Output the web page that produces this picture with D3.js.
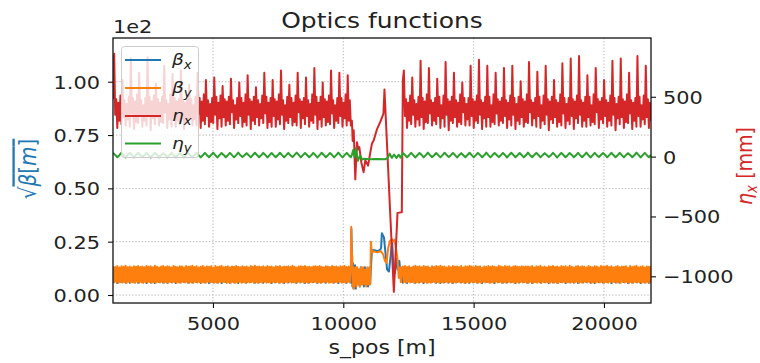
<!DOCTYPE html>
<html>
<head>
<meta charset="utf-8">
<script src="https://cdn.jsdelivr.net/npm/d3@7"></script>
<style>
  html, body { margin: 0; padding: 0; background: #fff; }
  svg { display: block; font-family: "DejaVu Sans", sans-serif; }
</style>
</head>
<body>
<svg id="chart" width="760" height="363"></svg>
<script>
// ---------------- axis limits and ticks ----------------
const sLimits = [1165, 21805];
const betaLimits = [-3.75, 120.5];        // sqrt(beta) [sqrt m]
const etaLimits = [-1223, 991];           // eta [mm]
const sTicks = [5000, 10000, 15000, 20000];
const betaTicks = [0, 25, 50, 75, 100];
const betaTickLabels = ["0.00", "0.25", "0.50", "0.75", "1.00"];
const betaOffsetLabel = "1e2";
const etaTicks = [-1000, -500, 0, 500];

// ---------------- arc 1, coarse samples (beta_x, eta_y) ----------------
const sArc1 = [
  1170,1250,1330,1410,1490,1570,1650,1730,1810,1890,
  1970,2050,2130,2210,2290,2370,2450,2530,2610,2690,
  2770,2850,2930,3010,3090,3170,3250,3330,3410,3490,
  3570,3650,3730,3810,3890,3970,4050,4130,4210,4290,
  4370,4450,4530,4610,4690,4770,4850,4930,5010,5090,
  5170,5250,5330,5410,5490,5570,5650,5730,5810,5890,
  5970,6050,6130,6210,6290,6370,6450,6530,6610,6690,
  6770,6850,6930,7010,7090,7170,7250,7330,7410,7490,
  7570,7650,7730,7810,7890,7970,8050,8130,8210,8290,
  8370,8450,8530,8610,8690,8770,8850,8930,9010,9090,
  9170,9250,9330,9410,9490,9570,9650,9730,9810,9890,
  9970,10050,10130,10210,10290
];
const bxArc1 = [
  5.9,12.3,5.6,12.6,6.1,12.1,5.8,12.5,5.7,12.2,
  6.0,12.7,5.7,12.0,6.1,12.4,5.6,12.6,5.9,12.2,
  5.6,12.5,6.1,12.1,5.8,12.7,5.7,12.3,6.0,12.0,
  5.6,12.6,5.9,12.2,6.1,12.4,5.7,12.5,5.8,12.1,
  6.1,12.3,5.7,12.7,5.9,12.0,5.6,12.6,6.0,12.2,
  5.8,12.4,5.6,12.5,6.1,12.1,5.7,12.7,5.9,12.3,
  5.6,12.2,6.0,12.6,5.8,12.0,6.1,12.4,5.7,12.5,
  5.9,12.1,5.7,12.7,6.1,12.3,5.6,12.2,6.0,12.6,
  5.8,12.4,5.6,12.0,5.9,12.5,6.1,12.2,5.7,12.7,
  6.0,12.1,5.6,12.6,5.8,12.3,6.1,12.4,5.7,12.2,
  5.9,12.5,5.7,12.0,6.1,12.7,5.8,12.1,5.6,12.4,
  6.0,12.2,5.7,12.6,5.8
];
const eyArc1 = [
  31,14,-5,12, 33,13,-7,12, 30,12,-6,14, 32,13,-4,11, 31,12,-7,13,
  33,14,-5,12, 29,13,-6,12, 32,11,-5,13, 31,14,-6,12, 30,12,-4,13,
  33,13,-6,11, 31,12,-5,14, 32,13,-7,12, 30,14,-5,12, 31,12,-6,13,
  33,13,-4,12, 29,12,-6,14, 32,13,-5,11, 31,14,-7,12, 30,12,-5,13,
  32,13,-6,12, 31,12,-4,14, 33,14,-6,12, 30,13,-5,11, 31,12,-7,13,
  32,14,-5,12, 30,13,-6,12, 33,13,-6,12, 31,12,-5
];

// ---------------- arc 1, fine samples (beta_y, eta_x) ----------------
const sArc1Fine = [
  1170,1210,1250,1290,1330,1370,1410,1450,1490,1530,
  1570,1610,1650,1690,1730,1770,1810,1850,1890,1930,
  1970,2010,2050,2090,2130,2170,2210,2250,2290,2330,
  2370,2410,2450,2490,2530,2570,2610,2650,2690,2730,
  2770,2810,2850,2890,2930,2970,3010,3050,3090,3130,
  3170,3210,3250,3290,3330,3370,3410,3450,3490,3530,
  3570,3610,3650,3690,3730,3770,3810,3850,3890,3930,
  3970,4010,4050,4090,4130,4170,4210,4250,4290,4330,
  4370,4410,4450,4490,4530,4570,4610,4650,4690,4730,
  4770,4810,4850,4890,4930,4970,5010,5050,5090,5130,
  5170,5210,5250,5290,5330,5370,5410,5450,5490,5530,
  5570,5610,5650,5690,5730,5770,5810,5850,5890,5930,
  5970,6010,6050,6090,6130,6170,6210,6250,6290,6330,
  6370,6410,6450,6490,6530,6570,6610,6650,6690,6730,
  6770,6810,6850,6890,6930,6970,7010,7050,7090,7130,
  7170,7210,7250,7290,7330,7370,7410,7450,7490,7530,
  7570,7610,7650,7690,7730,7770,7810,7850,7890,7930,
  7970,8010,8050,8090,8130,8170,8210,8250,8290,8330,
  8370,8410,8450,8490,8530,8570,8610,8650,8690,8730,
  8770,8810,8850,8890,8930,8970,9010,9050,9090,9130,
  9170,9210,9250,9290,9330,9370,9410,9450,9490,9530,
  9570,9610,9650,9690,9730,9770,9810,9850,9890,9930,
  9970,10010,10050,10090,10130,10170,10210,10250,10290
];
const byArc1 = [
  13.4,5.9,13.1,6.2,13.6,5.7,12.9,6.0,13.5,5.8,
  13.2,6.1,13.7,5.6,13.0,6.2,13.4,5.9,12.9,6.0,
  13.5,5.7,13.3,6.2,13.6,5.8,13.1,6.0,13.4,5.6,
  13.0,6.1,13.6,5.9,13.2,6.2,13.5,5.7,13.0,6.0,
  13.7,5.8,13.3,6.1,12.9,5.9,13.4,6.2,13.6,5.7,
  13.1,6.0,13.5,5.8,13.2,6.2,12.9,5.9,13.6,6.1,
  13.3,5.7,13.0,6.0,13.5,5.8,13.4,6.2,12.9,5.9,
  13.6,6.1,13.2,5.7,13.4,6.0,13.7,5.8,13.1,6.2,
  13.5,5.9,12.9,6.1,13.3,5.7,13.6,6.0,13.0,5.8,
  13.4,6.2,13.2,5.9,13.5,6.1,12.8,5.7,13.6,6.0,
  13.1,5.8,13.4,6.2,13.7,5.9,13.0,6.1,13.3,5.6,
  13.5,6.0,12.9,5.8,13.4,6.1,13.2,5.7,13.6,5.9,
  13.3,6.2,13.0,5.8,13.5,6.0,13.1,5.7,13.4,6.1,
  12.9,5.9,13.6,6.2,13.2,5.8,13.7,6.0,13.3,5.7,
  13.4,6.1,13.1,5.9,13.5,6.2,13.0,5.8,13.6,6.0,
  13.2,5.7,13.4,6.1,12.9,5.9,13.5,6.2,13.3,5.8,
  13.6,6.0,13.0,5.7,13.4,6.1,13.2,5.9,13.5,6.2,
  13.1,5.8,13.7,6.0,13.3,5.7,12.9,6.1,13.4,5.9,
  13.5,6.2,13.2,5.8,13.6,6.0,13.1,5.7,13.3,6.1,
  13.0,5.9,13.4,6.2,13.5,5.8,13.2,6.0,13.6,5.7,
  13.3,6.1,12.9,5.9,13.5,6.2,13.4,5.8,13.1,6.0,
  13.6,5.7,13.2,6.1,13.4,5.9,13.0,6.2,13.5,5.8,
  13.3,6.0,13.6,5.7,13.1,6.1,13.4,5.9,13.2
];
const exArc1 = [
  480,
  860,350,480,240,450,300,510,270,
  640,330,470,260,440,310,500,250,
  820,360,490,230,460,290,520,280,
  700,340,470,250,430,300,490,260,
  830,350,500,220,460,320,510,270,
  610,330,480,260,450,290,500,280,
  760,370,470,240,440,310,520,250,
  690,340,490,250,460,300,480,270,
  720,350,470,230,450,290,510,280,
  600,330,480,260,430,310,500,260,
  700,360,490,240,460,300,520,270,
  640,340,470,250,440,290,490,280,
  660,350,500,230,450,320,510,250,
  590,330,480,260,460,300,500,270,
  650,370,470,240,430,310,490,280,
  620,340,490,250,450,290,520,260,
  680,350,480,230,460,300,500,270,
  580,330,470,260,440,320,510,280,
  700,360,500,240,450,290,490,250,
  640,340,480,250,460,310,520,270,
  720,350,470,230,430,300,500,280,
  600,330,490,260,450,290,510,260,
  700,370,480,240,460,320,490,270,
  660,340,470,250,440,300,520,280,
  740,350,500,230,450,310,500,250,
  620,330,480,260,460,290,510,270,
  720,360,470,240,430,300,490,280,
  700,340,490,250,450,320,520,260,
  680,300,470,260
];

// ---------------- long straight section ----------------
const bxInsS = [
  10310,10330,10350,10370,10390,10410,10430,10450,10480,10510,
  10550,10590,10630,10670,10710,10750,10790,10830,10870,10910,
  10950,10990,11030,11060,11100,11200,11300,11400,11450,11480,
  11560,11600,11680,11750,11830,11870,11920,11980,12040,12090,
  12150,12200,12245
];
const bxIns = [
  31,18,4,15,3,12,4,14,3,12,
  5,12,4,13,5,12,4,13,5,12,
  4,12,5,13,21,21,20.5,21,22,29,
  27,22,12,11,20,26,14,10,17,12,
  16,9,12
];
const byInsS = [
  10305,10325,10345,10365,10385,10405,10425,10445,10470,10500,
  10530,10560,10600,10640,10680,10720,10760,10800,10840,10880,
  10920,10960,11000,11030,11045,11060,11090,11150,11300,11450,
  11530,11600,11660,11720,11780,11840,11900,11960,12020,12080,
  12130,12170,12210,12250
];
const byIns = [
  32,20,18,4,13,3,12,5,13,4,
  13,5,12,4,13,5,13,5,12,4,
  13,5,13,5,14,25,20,20.5,20,20.5,
  19,16,15,22,25,26,25,26,22,17,
  8,13,6,13
];
const exInsS = [
  10330,10360,10400,10460,10525,10570,10615,10690,10780,10845,
  10950,11040,11100,11165,11295,11420,11540,11580,11940,12080,
  12245
];
const exIns = [
  300,130,220,-190,120,60,80,-47,-130,-30,
  -75,40,110,135,230,290,360,560,-1130,-470,
  -465
];
const eyInsS = [
  10330,10380,10430,10490,10560,10650,10720,10800,11000,11300,
  11600,11700,11780,11860,11950,12040,12120,12200
];
const eyIns = [
  15,55,-5,70,-35,10,-25,-18,-22,-20,
  -22,-12,25,-10,18,-12,16,-8
];

// ---------------- arc 2, coarse samples (beta_x, eta_y) ----------------
const sArc2 = [
  12285,12365,12445,12525,12605,12685,12765,12845,12925,13005,
  13085,13165,13245,13325,13405,13485,13565,13645,13725,13805,
  13885,13965,14045,14125,14205,14285,14365,14445,14525,14605,
  14685,14765,14845,14925,15005,15085,15165,15245,15325,15405,
  15485,15565,15645,15725,15805,15885,15965,16045,16125,16205,
  16285,16365,16445,16525,16605,16685,16765,16845,16925,17005,
  17085,17165,17245,17325,17405,17485,17565,17645,17725,17805,
  17885,17965,18045,18125,18205,18285,18365,18445,18525,18605,
  18685,18765,18845,18925,19005,19085,19165,19245,19325,19405,
  19485,19565,19645,19725,19805,19885,19965,20045,20125,20205,
  20285,20365,20445,20525,20605,20685,20765,20845,20925,21005,
  21085,21165,21245,21325,21405,21485,21565,21645,21725,21805
];
const bxArc2 = [
  5.8,12.5,5.6,12.2,6.1,12.7,5.7,12.1,6.0,12.4,
  5.6,12.6,5.9,12.0,6.1,12.3,5.7,12.5,5.6,12.7,
  6.0,12.2,5.8,12.6,5.6,12.4,6.1,12.1,5.9,12.5,
  5.7,12.3,5.7,12.7,6.0,12.0,5.8,12.6,5.6,12.2,
  6.1,12.4,5.9,12.1,5.6,12.5,6.1,12.3,5.7,12.6,
  5.8,12.0,6.0,12.4,5.6,12.7,5.9,12.2,6.1,12.5,
  5.7,12.3,5.6,12.6,6.0,12.1,5.8,12.4,6.1,12.2,
  5.6,12.5,5.9,12.0,5.7,12.7,6.1,12.3,5.6,12.6,
  6.0,12.2,5.8,12.4,5.6,12.5,5.9,12.1,6.1,12.7,
  5.7,12.3,5.6,12.6,6.0,12.0,5.8,12.4,6.1,12.5,
  5.6,12.2,5.9,12.7,5.7,12.3,6.1,12.1,5.6,12.6,
  5.8,12.4,6.0,12.0,5.6,12.5,5.9,12.2,5.7,12.6
];
const eyArc2 = [
  30,13,-5,12, 32,12,-7,13, 31,14,-6,12, 33,13,-5,11, 30,12,-6,13,
  32,14,-4,12, 31,13,-7,12, 29,12,-5,14, 32,13,-6,12, 31,14,-5,11,
  33,12,-6,13, 30,13,-4,12, 31,12,-7,14, 32,14,-5,12, 30,13,-6,11,
  33,12,-5,13, 31,14,-6,12, 29,13,-4,12, 32,12,-7,13, 31,13,-5,12,
  30,14,-6,11, 32,12,-5,13, 33,13,-7,12, 31,12,-4,14, 30,14,-6,12,
  32,13,-5,12, 31,12,-6,13, 29,13,-5,11, 33,14,-7,12, 31,12,-5,13
];

// ---------------- arc 2, fine samples (beta_y, eta_x) ----------------
const sArc2Fine = [
  12285,12325,12365,12405,12445,12485,12525,12565,12605,12645,
  12685,12725,12765,12805,12845,12885,12925,12965,13005,13045,
  13085,13125,13165,13205,13245,13285,13325,13365,13405,13445,
  13485,13525,13565,13605,13645,13685,13725,13765,13805,13845,
  13885,13925,13965,14005,14045,14085,14125,14165,14205,14245,
  14285,14325,14365,14405,14445,14485,14525,14565,14605,14645,
  14685,14725,14765,14805,14845,14885,14925,14965,15005,15045,
  15085,15125,15165,15205,15245,15285,15325,15365,15405,15445,
  15485,15525,15565,15605,15645,15685,15725,15765,15805,15845,
  15885,15925,15965,16005,16045,16085,16125,16165,16205,16245,
  16285,16325,16365,16405,16445,16485,16525,16565,16605,16645,
  16685,16725,16765,16805,16845,16885,16925,16965,17005,17045,
  17085,17125,17165,17205,17245,17285,17325,17365,17405,17445,
  17485,17525,17565,17605,17645,17685,17725,17765,17805,17845,
  17885,17925,17965,18005,18045,18085,18125,18165,18205,18245,
  18285,18325,18365,18405,18445,18485,18525,18565,18605,18645,
  18685,18725,18765,18805,18845,18885,18925,18965,19005,19045,
  19085,19125,19165,19205,19245,19285,19325,19365,19405,19445,
  19485,19525,19565,19605,19645,19685,19725,19765,19805,19845,
  19885,19925,19965,20005,20045,20085,20125,20165,20205,20245,
  20285,20325,20365,20405,20445,20485,20525,20565,20605,20645,
  20685,20725,20765,20805,20845,20885,20925,20965,21005,21045,
  21085,21125,21165,21205,21245,21285,21325,21365,21405,21445,
  21485,21525,21565,21605,21645,21685,21725,21765,21805
];
const byArc2 = [
  13.3,6.0,13.6,5.8,13.1,6.2,13.5,5.9,12.9,6.1,
  13.4,5.7,13.7,6.0,13.2,5.8,13.5,6.2,13.0,5.9,
  13.6,6.1,13.3,5.7,13.4,6.0,12.8,5.8,13.5,6.2,
  13.1,5.9,13.6,6.1,13.3,5.7,13.7,6.0,13.2,5.8,
  13.4,6.2,12.9,5.9,13.5,6.1,13.0,5.7,13.6,6.0,
  13.3,5.8,13.4,6.2,13.1,5.9,13.6,6.1,12.9,5.7,
  13.5,6.0,13.2,5.8,13.7,6.2,13.4,5.9,13.0,6.1,
  13.6,5.7,13.3,6.0,13.5,5.8,12.8,6.2,13.4,5.9,
  13.1,6.1,13.6,5.7,13.2,6.0,13.5,5.8,13.3,6.2,
  13.0,5.9,13.7,6.1,13.4,5.7,13.1,6.0,13.6,5.8,
  13.2,6.2,13.5,5.9,12.9,6.1,13.4,5.7,13.6,6.0,
  13.3,5.8,13.1,6.2,13.5,5.9,13.2,6.1,13.4,5.7,
  13.4,5.9,13.1,6.2,13.6,5.7,12.9,6.0,13.5,5.8,
  13.2,6.1,13.7,5.6,13.0,6.2,13.4,5.9,12.9,6.0,
  13.5,5.7,13.3,6.2,13.6,5.8,13.1,6.0,13.4,5.6,
  13.0,6.1,13.6,5.9,13.2,6.2,13.5,5.7,13.0,6.0,
  13.7,5.8,13.3,6.1,12.9,5.9,13.4,6.2,13.6,5.7,
  13.1,6.0,13.5,5.8,13.2,6.2,12.9,5.9,13.6,6.1,
  13.3,5.7,13.0,6.0,13.5,5.8,13.4,6.2,12.9,5.9,
  13.6,6.1,13.2,5.7,13.4,6.0,13.7,5.8,13.1,6.2,
  13.5,5.9,12.9,6.1,13.3,5.7,13.6,6.0,13.0,5.8,
  13.4,6.2,13.2,5.9,13.5,6.1,12.8,5.7,13.6,6.0,
  13.1,5.8,13.4,6.2,13.7,5.9,13.0,6.1,13.3,5.6,
  13.5,6.0,12.9,5.8,13.4,6.1,13.2,5.7,13.6
];
const exArc2 = [
  640,
  720,340,480,240,450,300,510,270,
  660,350,470,250,440,310,500,260,
  800,330,490,230,460,290,520,280,
  740,360,470,260,450,300,490,270,
  650,340,500,240,430,320,510,250,
  790,350,480,220,460,300,500,280,
  700,330,470,250,450,290,520,270,
  620,370,490,260,440,310,490,260,
  760,340,480,240,460,300,510,280,
  810,350,470,230,450,320,500,250,
  760,330,500,250,430,290,520,270,
  700,360,480,260,460,300,490,280,
  740,340,470,240,450,310,510,260,
  760,350,490,230,440,300,500,270,
  630,330,480,250,460,290,520,280,
  790,370,470,260,450,320,490,250,
  710,340,500,240,430,300,510,270,
  760,350,480,220,460,310,500,280,
  640,330,470,250,450,290,520,260,
  780,360,490,240,440,300,490,270,
  820,340,480,230,460,320,510,280,
  840,350,470,250,450,300,500,250,
  680,330,500,260,430,290,520,270,
  740,370,480,240,460,310,490,280,
  640,340,470,250,450,300,510,260,
  800,350,490,220,440,320,500,270,
  820,330,480,240,460,290,520,280,
  700,360,470,230,450,300,490,250,
  840,340,500,250,430,310,510,270,
  760,330,480,240,450,300
];

const seriesNames = ["β_x", "β_y", "η_x", "η_y"];
const seriesColors = ["#1f77b4", "#ff7f0e", "#d62728", "#2ca02c"];

// ---------------- assemble the optics table ----------------
const betaX = d3.zip(sArc1, bxArc1).concat(d3.zip(bxInsS, bxIns), d3.zip(sArc2, bxArc2));
const betaY = d3.zip(sArc1Fine, byArc1).concat(d3.zip(byInsS, byIns), d3.zip(sArc2Fine, byArc2));
const etaX = d3.zip(sArc1Fine, exArc1).concat(d3.zip(exInsS, exIns), d3.zip(sArc2Fine, exArc2));
const etaY = d3.zip(sArc1, eyArc1).concat(d3.zip(eyInsS, eyIns), d3.zip(sArc2, eyArc2));

// ---------------- layout ----------------
const svg = d3.select("#chart");
const P = { left: 113, right: 651, top: 38, bottom: 303 };
const TX = 1.16;      // horizontal glyph stretch used for every label
const ink = "#222";

const x = d3.scaleLinear().domain(sLimits).range([P.left, P.right]);
const yL = d3.scaleLinear().domain(betaLimits).range([P.bottom, P.top]);
const yR = d3.scaleLinear().domain(etaLimits).range([P.bottom, P.top]);

svg.append("defs").append("clipPath").attr("id", "plotClip")
  .append("rect").attr("x", P.left).attr("y", P.top)
  .attr("width", P.right - P.left).attr("height", P.bottom - P.top);

// helper for stretched text
function label(g, tx, ty, str, size, opts = {}) {
  const t = g.append("text")
    .attr("transform", `translate(${tx},${ty}) scale(${TX},1)` + (opts.rotate ? ` rotate(${opts.rotate})` : ""))
    .attr("font-size", size)
    .attr("fill", opts.fill || ink)
    .attr("text-anchor", opts.anchor || "middle");
  if (str !== null) t.text(str);
  return t;
}

// grid
const grid = svg.append("g");
grid.selectAll("line.v").data(sTicks).join("line")
  .attr("x1", d => x(d)).attr("x2", d => x(d))
  .attr("y1", P.top).attr("y2", P.bottom);
grid.selectAll("line.h").data(betaTicks).join("line")
  .attr("x1", P.left).attr("x2", P.right)
  .attr("y1", d => yL(d)).attr("y2", d => yL(d));
grid.selectAll("line")
  .attr("stroke", "#b0b0b0").attr("stroke-width", 1)
  .attr("stroke-dasharray", "1.2,2");

const plot = svg.append("g").attr("clip-path", "url(#plotClip)");
const lineL = d3.line().x(d => x(d[0])).y(d => yL(d[1]));
const lineR = d3.line().x(d => x(d[0])).y(d => yR(d[1]));

function drawLine(data, gen, color) {
  plot.append("path").datum(data)
    .attr("d", gen)
    .attr("fill", "none")
    .attr("stroke", color)
    .attr("stroke-width", 2)
    .attr("stroke-linejoin", "round");
}

drawLine(betaX, lineL, seriesColors[0]);
drawLine(betaY, lineL, seriesColors[1]);

// legend (belongs to the left axes, so the right-axis curves pass over it)
const leg = svg.append("g");
leg.append("rect")
  .attr("x", 121.5).attr("y", 46.5).attr("width", 77).attr("height", 111)
  .attr("rx", 3).attr("fill", "#fff").attr("fill-opacity", 0.8)
  .attr("stroke", "#cccccc").attr("stroke-width", 1);
const legY = [60, 88, 116, 143.5];
seriesNames.forEach((name, i) => {
  leg.append("line")
    .attr("x1", 125).attr("x2", 161)
    .attr("y1", legY[i]).attr("y2", legY[i])
    .attr("stroke", seriesColors[i]).attr("stroke-width", 2);
  const [sym, sub] = name.split("_");
  const t = label(leg, 172, legY[i] + 5, null, 16, { anchor: "start" });
  t.append("tspan").attr("font-style", "italic").text(sym);
  t.append("tspan").attr("font-style", "italic").attr("font-size", 11.5).attr("dy", 3.5).text(sub);
});

drawLine(etaX, lineR, seriesColors[2]);
drawLine(etaY, lineR, seriesColors[3]);

// frame
svg.append("rect")
  .attr("x", P.left).attr("y", P.top)
  .attr("width", P.right - P.left).attr("height", P.bottom - P.top)
  .attr("fill", "none").attr("stroke", "#111").attr("stroke-width", 1.3);

// axes
const fs = 18;
const gx = svg.append("g").attr("transform", `translate(0,${P.bottom})`)
  .call(d3.axisBottom(x).tickValues(sTicks).tickSize(5).tickFormat(d3.format("d")));
const gl = svg.append("g").attr("transform", `translate(${P.left},0)`)
  .call(d3.axisLeft(yL).tickValues(betaTicks).tickSize(5).tickFormat((d, i) => betaTickLabels[i]));
const gr = svg.append("g").attr("transform", `translate(${P.right},0)`)
  .call(d3.axisRight(yR).tickValues(etaTicks).tickSize(5).tickFormat(d3.format("d")));

[gx, gl, gr].forEach(g => {
  g.select(".domain").remove();
  g.selectAll(".tick line").attr("stroke", "#111").attr("stroke-width", 1.1);
  g.selectAll(".tick text")
    .attr("font-family", "DejaVu Sans").attr("font-size", fs).attr("fill", ink)
    .attr("x", null).attr("y", null).attr("dy", null);
});
gx.selectAll(".tick text").attr("transform", `translate(0,27) scale(${TX},1)`).attr("text-anchor", "middle");
gl.selectAll(".tick text").attr("transform", `translate(-13,6.5) scale(${TX},1)`).attr("text-anchor", "end");
gr.selectAll(".tick text").attr("transform", `translate(12,6.5) scale(${TX},1)`).attr("text-anchor", "start");

// titles and labels
const txt = svg.append("g");
label(txt, (P.left + P.right) / 2, 28, "Optics functions", 21.5);
label(txt, P.left, 33, betaOffsetLabel, fs, { anchor: "start" });
label(txt, (P.left + P.right) / 2, 354, "s_pos [m]", 19);

// left label: sqrt(beta[m])
const yl = label(txt, 36, 169, null, 20, { rotate: -90, fill: "#1f77b4" });
yl.append("tspan").text("√");
yl.append("tspan").attr("text-decoration", "overline").attr("font-style", "italic").text("β")
  .append("tspan").attr("font-style", "normal").text("[")
  .append("tspan").attr("font-style", "italic").text("m")
  .append("tspan").attr("font-style", "normal").text("]");

// right label: eta_x [mm]
const yr = label(txt, 752, 166, null, 19, { rotate: -90, fill: "#d62728" });
yr.append("tspan").attr("font-style", "italic").text("η");
yr.append("tspan").attr("font-style", "italic").attr("font-size", 13.5).attr("dy", 4).text("x");
yr.append("tspan").attr("dy", -4).text(" [mm]");
</script>
</body>
</html>
